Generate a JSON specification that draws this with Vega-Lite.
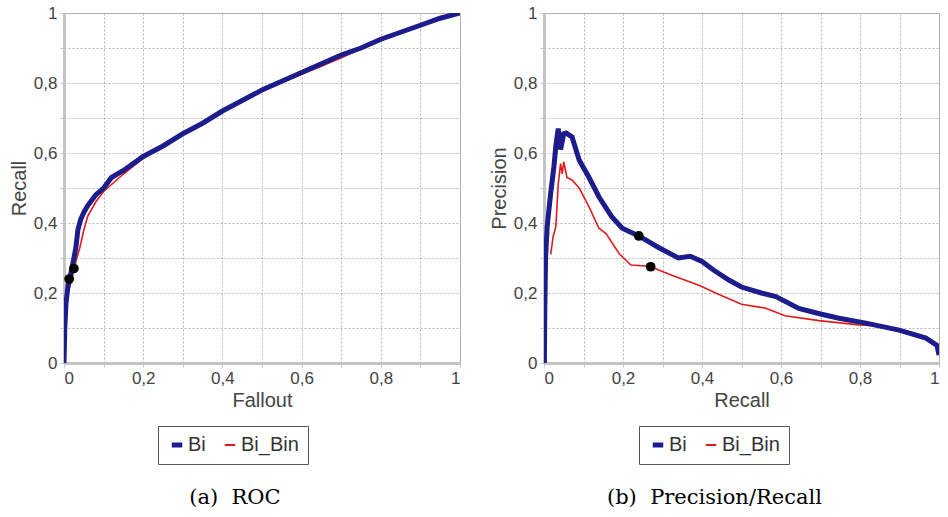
{
  "$schema": "https://vega.github.io/schema/vega-lite/v6.json",
  "padding": {"left": 8, "top": 3, "right": 2, "bottom": 2},
  "background": "white",
  "spacing": 27,
  "datasets": {
    "roc": [
      {"x": 0, "y": 0, "series": "Bi"}, {"x": 0.002, "y": 0.1, "series": "Bi"}, {"x": 0.005, "y": 0.17, "series": "Bi"},
      {"x": 0.01, "y": 0.22, "series": "Bi"}, {"x": 0.02, "y": 0.27, "series": "Bi"}, {"x": 0.03, "y": 0.33, "series": "Bi"},
      {"x": 0.035, "y": 0.38, "series": "Bi"}, {"x": 0.042, "y": 0.41, "series": "Bi"}, {"x": 0.05, "y": 0.43, "series": "Bi"},
      {"x": 0.06, "y": 0.45, "series": "Bi"}, {"x": 0.08, "y": 0.48, "series": "Bi"}, {"x": 0.1, "y": 0.5, "series": "Bi"},
      {"x": 0.12, "y": 0.53, "series": "Bi"}, {"x": 0.15, "y": 0.55, "series": "Bi"}, {"x": 0.2, "y": 0.59, "series": "Bi"},
      {"x": 0.25, "y": 0.62, "series": "Bi"}, {"x": 0.3, "y": 0.655, "series": "Bi"}, {"x": 0.35, "y": 0.685, "series": "Bi"},
      {"x": 0.4, "y": 0.72, "series": "Bi"}, {"x": 0.45, "y": 0.75, "series": "Bi"}, {"x": 0.5, "y": 0.78, "series": "Bi"},
      {"x": 0.55, "y": 0.805, "series": "Bi"}, {"x": 0.6, "y": 0.83, "series": "Bi"}, {"x": 0.65, "y": 0.855, "series": "Bi"},
      {"x": 0.7, "y": 0.88, "series": "Bi"}, {"x": 0.75, "y": 0.9, "series": "Bi"}, {"x": 0.8, "y": 0.925, "series": "Bi"},
      {"x": 0.85, "y": 0.945, "series": "Bi"}, {"x": 0.9, "y": 0.965, "series": "Bi"}, {"x": 0.95, "y": 0.985, "series": "Bi"},
      {"x": 1, "y": 1, "series": "Bi"},
      {"x": 0, "y": 0, "series": "Bi_Bin"}, {"x": 0.003, "y": 0.1, "series": "Bi_Bin"}, {"x": 0.01, "y": 0.2, "series": "Bi_Bin"},
      {"x": 0.02, "y": 0.24, "series": "Bi_Bin"}, {"x": 0.03, "y": 0.29, "series": "Bi_Bin"}, {"x": 0.04, "y": 0.33, "series": "Bi_Bin"},
      {"x": 0.05, "y": 0.38, "series": "Bi_Bin"}, {"x": 0.06, "y": 0.42, "series": "Bi_Bin"}, {"x": 0.08, "y": 0.46, "series": "Bi_Bin"},
      {"x": 0.1, "y": 0.49, "series": "Bi_Bin"}, {"x": 0.15, "y": 0.54, "series": "Bi_Bin"}, {"x": 0.2, "y": 0.585, "series": "Bi_Bin"},
      {"x": 0.3, "y": 0.655, "series": "Bi_Bin"}, {"x": 0.4, "y": 0.72, "series": "Bi_Bin"}, {"x": 0.5, "y": 0.778, "series": "Bi_Bin"},
      {"x": 0.6, "y": 0.825, "series": "Bi_Bin"}, {"x": 0.65, "y": 0.848, "series": "Bi_Bin"}, {"x": 0.7, "y": 0.872, "series": "Bi_Bin"},
      {"x": 0.8, "y": 0.922, "series": "Bi_Bin"}, {"x": 0.9, "y": 0.965, "series": "Bi_Bin"}, {"x": 1, "y": 1, "series": "Bi_Bin"}
    ],
    "rocpts": [{"x": 0.013, "y": 0.24}, {"x": 0.025, "y": 0.27}],
    "pr": [
      {"x": 0.001, "y": 0.0, "series": "Bi"}, {"x": 0.002, "y": 0.15, "series": "Bi"}, {"x": 0.004, "y": 0.3, "series": "Bi"},
      {"x": 0.008, "y": 0.39, "series": "Bi"}, {"x": 0.017, "y": 0.486, "series": "Bi"}, {"x": 0.025, "y": 0.56, "series": "Bi"},
      {"x": 0.03, "y": 0.62, "series": "Bi"}, {"x": 0.036, "y": 0.67, "series": "Bi"}, {"x": 0.042, "y": 0.61, "series": "Bi"},
      {"x": 0.05, "y": 0.655, "series": "Bi"}, {"x": 0.056, "y": 0.657, "series": "Bi"}, {"x": 0.071, "y": 0.646, "series": "Bi"},
      {"x": 0.089, "y": 0.58, "series": "Bi"}, {"x": 0.114, "y": 0.53, "series": "Bi"}, {"x": 0.139, "y": 0.475, "series": "Bi"},
      {"x": 0.172, "y": 0.417, "series": "Bi"}, {"x": 0.198, "y": 0.385, "series": "Bi"}, {"x": 0.24, "y": 0.363, "series": "Bi"},
      {"x": 0.29, "y": 0.33, "series": "Bi"}, {"x": 0.34, "y": 0.3, "series": "Bi"}, {"x": 0.37, "y": 0.305, "series": "Bi"},
      {"x": 0.4, "y": 0.29, "series": "Bi"}, {"x": 0.43, "y": 0.265, "series": "Bi"}, {"x": 0.468, "y": 0.237, "series": "Bi"},
      {"x": 0.5, "y": 0.217, "series": "Bi"}, {"x": 0.55, "y": 0.2, "series": "Bi"}, {"x": 0.587, "y": 0.19, "series": "Bi"},
      {"x": 0.645, "y": 0.156, "series": "Bi"}, {"x": 0.7, "y": 0.14, "series": "Bi"}, {"x": 0.747, "y": 0.128, "series": "Bi"},
      {"x": 0.815, "y": 0.114, "series": "Bi"}, {"x": 0.899, "y": 0.094, "series": "Bi"}, {"x": 0.967, "y": 0.071, "series": "Bi"},
      {"x": 0.995, "y": 0.05, "series": "Bi"}, {"x": 1, "y": 0.023, "series": "Bi"},
      {"x": 0.017, "y": 0.31, "series": "Bi_Bin"}, {"x": 0.023, "y": 0.36, "series": "Bi_Bin"}, {"x": 0.03, "y": 0.39, "series": "Bi_Bin"},
      {"x": 0.036, "y": 0.51, "series": "Bi_Bin"}, {"x": 0.042, "y": 0.57, "series": "Bi_Bin"}, {"x": 0.046, "y": 0.54, "series": "Bi_Bin"},
      {"x": 0.05, "y": 0.575, "series": "Bi_Bin"}, {"x": 0.058, "y": 0.53, "series": "Bi_Bin"}, {"x": 0.071, "y": 0.523, "series": "Bi_Bin"},
      {"x": 0.089, "y": 0.5, "series": "Bi_Bin"}, {"x": 0.114, "y": 0.446, "series": "Bi_Bin"}, {"x": 0.139, "y": 0.385, "series": "Bi_Bin"},
      {"x": 0.157, "y": 0.37, "series": "Bi_Bin"}, {"x": 0.19, "y": 0.313, "series": "Bi_Bin"}, {"x": 0.22, "y": 0.28, "series": "Bi_Bin"},
      {"x": 0.257, "y": 0.277, "series": "Bi_Bin"}, {"x": 0.27, "y": 0.275, "series": "Bi_Bin"}, {"x": 0.325, "y": 0.25, "series": "Bi_Bin"},
      {"x": 0.392, "y": 0.222, "series": "Bi_Bin"}, {"x": 0.443, "y": 0.196, "series": "Bi_Bin"}, {"x": 0.5, "y": 0.168, "series": "Bi_Bin"},
      {"x": 0.56, "y": 0.157, "series": "Bi_Bin"}, {"x": 0.61, "y": 0.135, "series": "Bi_Bin"}, {"x": 0.696, "y": 0.121, "series": "Bi_Bin"},
      {"x": 0.797, "y": 0.109, "series": "Bi_Bin"}, {"x": 0.85, "y": 0.106, "series": "Bi_Bin"}, {"x": 0.9, "y": 0.094, "series": "Bi_Bin"},
      {"x": 0.967, "y": 0.071, "series": "Bi_Bin"}, {"x": 1, "y": 0.04, "series": "Bi_Bin"}
    ],
    "prpts": [{"x": 0.24, "y": 0.363}, {"x": 0.27, "y": 0.275}]
  },
  "config": {
    "font": "Liberation Sans",
    "view": {"stroke": "#aaaaaa", "strokeWidth": 1},
    "axis": {
      "labelFont": "Liberation Sans", "labelFontSize": 17, "labelColor": "#444444",
      "titleFont": "Liberation Sans", "titleFontSize": 20, "titleFontWeight": "normal", "titleColor": "#444444",
      "grid": true, "gridColor": "#b8b8b8", "gridDash": [2, 2], "gridWidth": 1,
      "domainColor": "#c4c4c4", "domainWidth": 3,
      "tickColor": "#c4c4c4", "tickSize": 4, "labelPadding": 3,
      "values": [0, 0.1, 0.2, 0.3, 0.4, 0.5, 0.6, 0.7, 0.8, 0.9, 1],
      "labelExpr": "round(datum.value*10) % 2 == 0 ? replace(format(datum.value, '~g'), '.', ',') : ''"
    },
    "legend": {
      "orient": "none", "direction": "horizontal", "title": null,
      "strokeColor": "#555555", "fillColor": "white", "padding": 9,
      "labelFont": "Liberation Sans", "labelFontSize": 20, "labelColor": "#333333",
      "symbolType": "stroke", "symbolSize": 110, "labelOffset": 1, "columnPadding": 14
    },
    "title": {"font": "DejaVu Serif", "fontSize": 21, "fontWeight": "normal", "color": "black", "orient": "bottom", "anchor": "middle", "frame": "bounds", "offset": 22}
  },
  "resolve": {"scale": {"color": "independent"}, "legend": {"color": "independent"}},
  "hconcat": [
    {
      "width": 396, "height": 350,
      "title": {"text": "(a)\u00a0 ROC"},
      "layer": [
        {
          "data": {"name": "roc"},
          "transform": [{"filter": "datum.series == 'Bi_Bin'"}],
          "mark": {"type": "line", "strokeWidth": 1.6, "clip": true},
          "encoding": {
            "x": {"field": "x", "type": "quantitative", "scale": {"domain": [0, 1], "nice": false}, "title": "Fallout"},
            "y": {"field": "y", "type": "quantitative", "scale": {"domain": [0, 1], "nice": false}, "title": "Recall"},
            "color": {"field": "series", "type": "nominal", "scale": {"domain": ["Bi", "Bi_Bin"], "range": ["#1c1c8c", "#e31a1c"]},
              "legend": {"legendX": 94, "legendY": 413, "encode": {"symbols": {"update": {"strokeWidth": {"signal": "datum.value === 'Bi' ? 5 : 2"}}}}}}
          }
        },
        {
          "data": {"name": "roc"},
          "transform": [{"filter": "datum.series == 'Bi'"}],
          "mark": {"type": "line", "strokeWidth": 5, "clip": true},
          "encoding": {
            "x": {"field": "x", "type": "quantitative"},
            "y": {"field": "y", "type": "quantitative"},
            "color": {"field": "series", "type": "nominal"}
          }
        },
        {
          "data": {"name": "rocpts"},
          "mark": {"type": "circle", "color": "black", "size": 95, "opacity": 1},
          "encoding": {
            "x": {"field": "x", "type": "quantitative"},
            "y": {"field": "y", "type": "quantitative"}
          }
        }
      ]
    },
    {
      "width": 395, "height": 350,
      "title": {"text": "(b)\u00a0 Precision/Recall"},
      "layer": [
        {
          "data": {"name": "pr"},
          "transform": [{"filter": "datum.series == 'Bi_Bin'"}],
          "mark": {"type": "line", "strokeWidth": 1.6, "clip": true},
          "encoding": {
            "x": {"field": "x", "type": "quantitative", "scale": {"domain": [0, 1], "nice": false}, "title": "Recall"},
            "y": {"field": "y", "type": "quantitative", "scale": {"domain": [0, 1], "nice": false}, "title": "Precision"},
            "color": {"field": "series", "type": "nominal", "scale": {"domain": ["Bi", "Bi_Bin"], "range": ["#1c1c8c", "#e31a1c"]},
              "legend": {"legendX": 95, "legendY": 413, "encode": {"symbols": {"update": {"strokeWidth": {"signal": "datum.value === 'Bi' ? 5 : 2"}}}}}}
          }
        },
        {
          "data": {"name": "pr"},
          "transform": [{"filter": "datum.series == 'Bi'"}],
          "mark": {"type": "line", "strokeWidth": 5, "clip": true},
          "encoding": {
            "x": {"field": "x", "type": "quantitative"},
            "y": {"field": "y", "type": "quantitative"},
            "color": {"field": "series", "type": "nominal"}
          }
        },
        {
          "data": {"name": "prpts"},
          "mark": {"type": "circle", "color": "black", "size": 95, "opacity": 1},
          "encoding": {
            "x": {"field": "x", "type": "quantitative"},
            "y": {"field": "y", "type": "quantitative"}
          }
        }
      ]
    }
  ]
}
